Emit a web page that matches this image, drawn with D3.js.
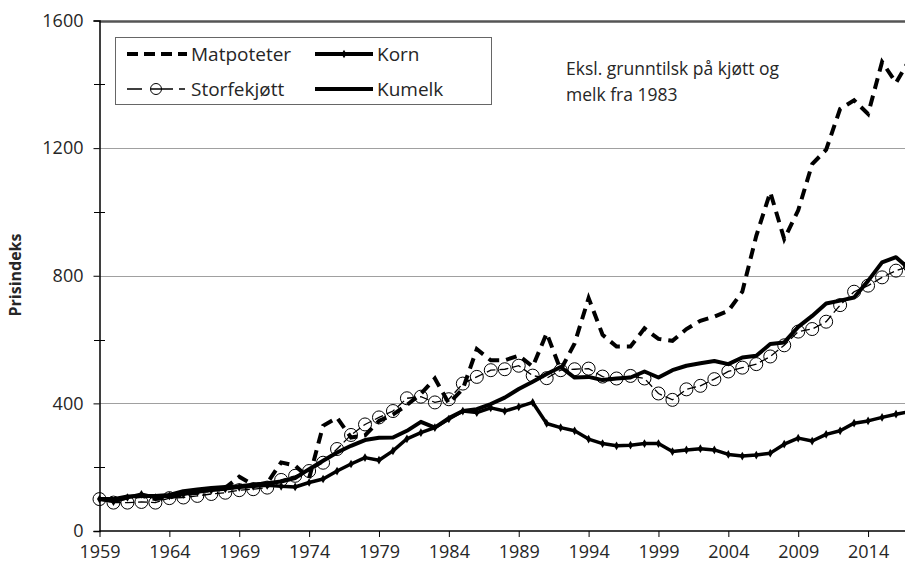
<!DOCTYPE html>
<html>
<head>
<meta charset="utf-8">
<script src="https://cdn.jsdelivr.net/npm/d3@7"></script>
<style>
  body { margin: 0; background: #fff; }
  svg text { font-family: "Open Sans", "Noto Sans", sans-serif; fill: #262626; }
</style>
</head>
<body>
<svg id="chart" width="905" height="569"></svg>
<script>
// years on the x axis
var years = d3.range(1959, 2018);
var xTicks = [1959, 1964, 1969, 1974, 1979, 1984, 1989, 1994, 1999, 2004, 2009, 2014];
var yTicks = [0, 400, 800, 1200, 1600];
var yMinor = [200, 600, 1000, 1400];

// price index, 1959 = 100
var matpoteter = [100, 95, 105, 110, 100, 105, 115, 120, 130, 135,
                  170, 145, 150, 215, 205, 165, 330, 355, 293, 300,
                  345, 365, 395, 430, 478, 400, 445, 570, 535, 535,
                  550, 515, 620, 505, 588, 730, 615, 578, 578, 635,
                  602, 596, 633, 659, 672, 690, 750, 925, 1062, 915,
                  1005, 1150, 1195, 1323, 1350, 1307, 1470, 1405, 1480];

var korn = [100, 92, 105, 115, 105, 110, 115, 122, 128, 132,
            137, 140, 143, 140, 138, 152, 163, 188, 210, 230,
            222, 251, 289, 308, 324, 351, 376, 371, 386, 376,
            389, 403, 337, 324, 314, 288, 274, 267, 269, 274,
            274, 249, 254, 258, 254, 240, 235, 238, 244, 272,
            291, 282, 303, 314, 338, 345, 356, 366, 374];

var storfekjott = [100, 89, 89, 91, 89, 103, 105, 110, 116, 120,
                   128, 131, 136, 160, 173, 188, 214, 257, 301, 334,
                   356, 376, 416, 421, 403, 413, 462, 483, 504, 507,
                   518, 487, 479, 504, 507, 509, 484, 478, 486, 478,
                   431, 411, 444, 455, 476, 500, 512, 523, 547, 582,
                   625, 633, 656, 708, 750, 769, 795, 816, 830];

var kumelk = [100, 100, 108, 110, 110, 113, 125, 130, 135, 138,
              140, 145, 150, 155, 166, 194, 220, 246, 267, 285,
              292, 293, 314, 342, 324, 354, 376, 382, 398, 418,
              445, 468, 492, 514, 481, 483, 473, 478, 481, 500,
              481, 504, 518, 526, 533, 523, 544, 549, 586, 591,
              640, 674, 713, 722, 732, 784, 842, 858, 820];

var svg = d3.select("#chart");

var x = d3.scaleLinear().domain([1959, 2017]).range([99.5, 910]);
var y = d3.scaleLinear().domain([0, 1600]).range([531, 20.5]);

// grid lines
svg.append("g")
    .selectAll("line")
    .data(yTicks.filter(d => d > 0))
    .join("line")
    .attr("x1", 99.5).attr("x2", 905)
    .attr("y1", d => Math.round(y(d)) + 0.5)
    .attr("y2", d => Math.round(y(d)) + 0.5)
    .attr("stroke", d => d == 1600 ? "#555" : "#a0a0a0")
    .attr("stroke-width", d => d == 1600 ? 2.5 : 1.2);

// y axis
var yAxis = svg.append("g")
    .attr("transform", "translate(99.5,0)")
    .call(d3.axisLeft(y).tickValues(yTicks).tickSize(6).tickPadding(10).tickFormat(d3.format("d")));
yAxis.select(".domain").attr("stroke", "#000").attr("stroke-width", 1.5);
yAxis.selectAll("text").style("font-size", "18px").attr("fill", "#262626");
svg.append("g")
    .selectAll("line")
    .data(yMinor)
    .join("line")
    .attr("x1", 94).attr("x2", 105)
    .attr("y1", d => Math.round(y(d)) + 0.5)
    .attr("y2", d => Math.round(y(d)) + 0.5)
    .attr("stroke", "#000");

// x axis
var xAxis = svg.append("g")
    .attr("transform", "translate(0,531)")
    .call(d3.axisBottom(x).tickValues(xTicks).tickSize(6).tickPadding(8).tickFormat(d3.format("d")));
xAxis.select(".domain").attr("d", "M99.5,0H905").attr("stroke", "#000").attr("stroke-width", 1.5);
xAxis.selectAll("text").style("font-size", "18px").attr("fill", "#262626");

svg.append("text")
    .attr("transform", "translate(21,275) rotate(-90)")
    .attr("text-anchor", "middle")
    .style("font-size", "16px")
    .style("font-weight", "bold")
    .text("Prisindeks");

function lineFor(values) {
    return d3.line()
        .x((d, i) => x(years[i]))
        .y(d => y(d))(values);
}

var plot = svg.append("g");

// Matpoteter
plot.append("path")
    .attr("d", lineFor(matpoteter))
    .attr("fill", "none")
    .attr("stroke", "#000")
    .attr("stroke-width", 4)
    .attr("stroke-dasharray", "11,7");

// Korn
plot.append("path")
    .attr("d", lineFor(korn))
    .attr("fill", "none")
    .attr("stroke", "#000")
    .attr("stroke-width", 3.5)
    .attr("stroke-linejoin", "round");
plot.append("g")
    .selectAll("path")
    .data(korn)
    .join("path")
    .attr("transform", (d, i) => "translate(" + x(years[i]) + "," + y(d) + ")")
    .attr("d", d3.symbol().type(d3.symbolDiamond).size(22))
    .attr("fill", "#000");

// Storfekjøtt
plot.append("path")
    .attr("d", lineFor(storfekjott))
    .attr("fill", "none")
    .attr("stroke", "#000")
    .attr("stroke-width", 1.3)
    .attr("stroke-dasharray", "9,4");
plot.append("g")
    .selectAll("circle")
    .data(storfekjott)
    .join("circle")
    .attr("cx", (d, i) => x(years[i]))
    .attr("cy", d => y(d))
    .attr("r", 6.5)
    .attr("fill", "none")
    .attr("stroke", "#000")
    .attr("stroke-width", 1);

// Kumelk
plot.append("path")
    .attr("d", lineFor(kumelk))
    .attr("fill", "none")
    .attr("stroke", "#000")
    .attr("stroke-width", 4)
    .attr("stroke-linejoin", "round");

// legend
var legend = svg.append("g");
legend.append("rect")
    .attr("x", 115.5).attr("y", 37.5)
    .attr("width", 376).attr("height", 67)
    .attr("fill", "#fff")
    .attr("stroke", "#666");

var items = [
    {name: "Matpoteter", col: 0, row: 0},
    {name: "Korn", col: 1, row: 0},
    {name: "Storfekjøtt", col: 0, row: 1},
    {name: "Kumelk", col: 1, row: 1}
];
var colX = [127, 315];
var rowY = [54, 89];

items.forEach(function(it) {
    var x0 = colX[it.col], yy = rowY[it.row];
    var g = legend.append("g");
    if (it.name == "Matpoteter") {
        g.append("line").attr("x1", x0).attr("x2", x0 + 60).attr("y1", yy).attr("y2", yy)
            .attr("stroke", "#000").attr("stroke-width", 4).attr("stroke-dasharray", "11,6");
    } else if (it.name == "Storfekjøtt") {
        g.append("line").attr("x1", x0).attr("x2", x0 + 58).attr("y1", yy).attr("y2", yy)
            .attr("stroke", "#000").attr("stroke-width", 1.3).attr("stroke-dasharray", "15,9,22,6,9,0");
        g.append("circle").attr("cx", x0 + 29).attr("cy", yy).attr("r", 5.5)
            .attr("fill", "none").attr("stroke", "#000");
    } else {
        g.append("line").attr("x1", x0).attr("x2", x0 + 58).attr("y1", yy).attr("y2", yy)
            .attr("stroke", "#000").attr("stroke-width", 4);
        if (it.name == "Korn") {
            g.append("path").attr("transform", "translate(" + (x0 + 29) + "," + yy + ")")
                .attr("d", d3.symbol().type(d3.symbolDiamond).size(22)).attr("fill", "#000");
        }
    }
    g.append("text")
        .attr("x", x0 + (it.col == 0 ? 64 : 62))
        .attr("y", yy)
        .attr("dy", "0.35em")
        .style("font-size", "19px")
        .text(it.name);
});

// note
var note = svg.append("text")
    .attr("x", 566).attr("y", 69)
    .style("font-size", "17.5px");
note.append("tspan").attr("x", 566).attr("dy", "0.35em").text("Eksl. grunntilsk på kjøtt og");
note.append("tspan").attr("x", 566).attr("dy", "1.5em").text("melk fra 1983");
</script>
</body>
</html>
